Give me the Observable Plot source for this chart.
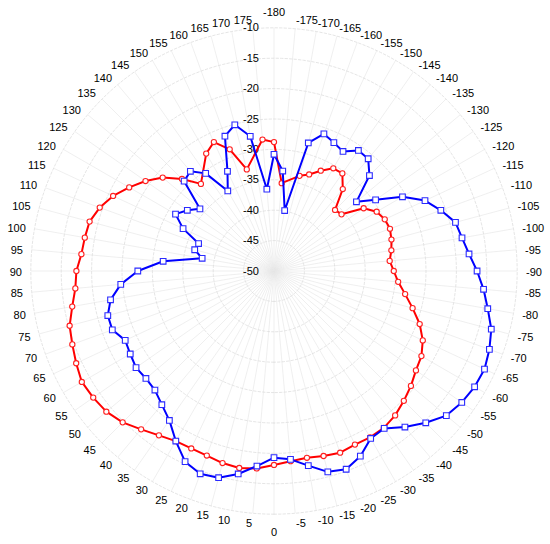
<!DOCTYPE html>
<html><head><meta charset="utf-8">
<script src="https://cdn.jsdelivr.net/npm/d3@7"></script>
<script src="https://cdn.jsdelivr.net/npm/@observablehq/plot@0.6"></script>
<style>html,body{margin:0;padding:0;background:#fff;} svg{display:block;}</style>
</head><body><div id="chart"></div>
<script>
// angular tick labels (degrees)
const angleTicks = [-180,-175,-170,-165,-160,-155,-150,-145,-140,-135,-130,-125,-120,-115,-110,-105,-100,-95,-90,-85,-80,-75,-70,-65,-60,-55,-50,-45,-40,-35,-30,-25,-20,-15,-10,-5,0,5,10,15,20,25,30,35,40,45,50,55,60,65,70,75,80,85,90,95,100,105,110,115,120,125,130,135,140,145,150,155,160,165,170,175];
// radial tick labels (dB)
const radialTicks = [-50,-45,-40,-35,-30,-25,-20,-15,-10];

// red series (circles)
const redAngles = [-175,-165,-160,-155,-150,-145,-140,-135,-130,-125,-120,-115,-110,-105,-100,-95,-90,-85,-80,-75,-70,-65,-60,-55,-50,-45,-40,-35,-30,-25,-20,-15,-10,-5,0,5,10,15,20,25,30,35,40,45,50,55,60,65,70,75,80,85,90,95,100,105,110,115,120,125,130,135,140,150,155,160,165,175,180];
const redValues = [-35.5,-33.8,-33.1,-31.8,-30.5,-30.4,-32.4,-35.8,-35.5,-32.0,-30.5,-29.9,-29.7,-30.0,-30.4,-30.9,-30.3,-29.5,-28.1,-26.4,-24.5,-23.0,-22.0,-21.5,-20.6,-19.8,-19.0,-18.5,-18.4,-18.5,-18.2,-18.5,-18.8,-18.6,-18.1,-17.4,-17.1,-17.3,-17.7,-17.8,-17.7,-17.0,-16.0,-14.8,-14.0,-13.7,-13.5,-14.1,-14.7,-15.2,-16.3,-17.2,-17.5,-18.2,-18.4,-18.6,-19.5,-20.8,-22.5,-24.2,-26.1,-28.6,-31.3,-27.7,-26.6,-28.7,-32.7,-28.3,-28.8];

// blue series (squares)
const blueAngles = [-175,-170,-165,-160,-155,-150,-145,-140,-135,-130,-125,-120,-115,-110,-105,-100,-95,-90,-85,-80,-75,-70,-65,-60,-55,-50,-45,-40,-35,-30,-25,-20,-15,-10,-5,0,5,10,15,20,25,30,35,40,45,50,55,60,65,70,75,80,85,90,95,100,105,110,115,120,125,130,135,140,145,150,155,160,165,170,175,180];
const blueValues = [-33.5,-39.9,-28.2,-26.0,-26.7,-27.3,-25.8,-25.9,-27.8,-32.3,-29.6,-25.6,-22.6,-20.8,-19.1,-18.6,-17.8,-16.6,-15.4,-14.3,-13.0,-12.3,-11.8,-11.9,-12.3,-13.0,-14.7,-16.5,-18.4,-18.2,-16.4,-15.3,-15.8,-17.5,-18.9,-19.3,-17.8,-16.1,-14.8,-14.5,-15.4,-17.7,-20.0,-21.3,-22.3,-22.5,-22.3,-22.7,-23.0,-21.7,-21.7,-22.7,-24.7,-27.6,-31.7,-38.0,-36.5,-36.8,-33.5,-31.3,-32.6,-34.1,-29.1,-28.6,-30.4,-34.8,-31.9,-26.4,-25.1,-27.5,-36.5,-30.8];

const rMin = radialTicks[0], rMax = radialTicks[radialTicks.length - 1];
const W = 550, H = 544, cx = 273.5, cy = 270.5, k = 6.08; // px per dB
const R = rMax - rMin;
const rad = a => a * Math.PI / 180;
const X = (a, rr) => -rr * Math.sin(rad(a));
const Y = (a, rr) => -rr * Math.cos(rad(a));

const red = redAngles.map((a, i) => ({a, r: redValues[i] - rMin}));
const blue = blueAngles.map((a, i) => ({a, r: blueValues[i] - rMin}));

// grid rings
const ringPts = [];
for (const t of radialTicks.slice(1)) {
  for (let a = 0; a <= 360; a += 2) ringPts.push({ring: t, a, r: t - rMin});
}

const RL = 252 / k;
const leftLab = angleTicks.filter(a => a > 0);
const rightLab = angleTicks.filter(a => a < 0 && a !== -180);
const font = "'Liberation Sans', Arial, sans-serif";

const chart = Plot.plot({
  width: W, height: H, margin: 0,
  style: {fontFamily: font, fontSize: "11px", background: "#fff"},
  x: {domain: [-cx / k, (W - cx) / k], axis: null},
  y: {domain: [-(H - cy) / k, cy / k], axis: null},
  marks: [
    Plot.link(angleTicks, {x1: 0, y1: 0, x2: a => X(a, R), y2: a => Y(a, R), stroke: "#e8e8e8", strokeWidth: 0.7}),
    Plot.line(ringPts, {x: d => X(d.a, d.r), y: d => Y(d.a, d.r), z: "ring", stroke: "#dedede", strokeWidth: 0.8, strokeDasharray: "2.5,2"}),
    Plot.text(radialTicks, {x: 0, y: v => v - rMin, text: v => String(v), textAnchor: "end", dx: -15, fill: "#000", fontSize: 11}),
    Plot.text(leftLab, {x: a => X(a, RL), y: a => Y(a, RL), text: a => String(a), textAnchor: "end", dy: 1, fill: "#000", fontSize: 11}),
    Plot.text(rightLab, {x: a => X(a, RL), y: a => Y(a, RL), text: a => String(a), textAnchor: "start", dy: 1, fill: "#000", fontSize: 11}),
    Plot.text([-180], {x: a => X(a, RL), y: a => Y(a, RL), text: a => String(a), textAnchor: "middle", dy: -7, fill: "#000", fontSize: 11}),
    Plot.text([0], {x: a => X(a, RL), y: a => Y(a, RL), text: a => String(a), textAnchor: "middle", dy: 9, fill: "#000", fontSize: 11}),
    Plot.line(red, {x: d => X(d.a, d.r), y: d => Y(d.a, d.r), curve: "linear-closed", stroke: "#ff0000", strokeWidth: 2}),
    Plot.dot(red, {x: d => X(d.a, d.r), y: d => Y(d.a, d.r), r: 2.6, fill: "#fff", stroke: "#ff2020", strokeWidth: 1.1}),
    Plot.line(blue, {x: d => X(d.a, d.r), y: d => Y(d.a, d.r), curve: "linear-closed", stroke: "#0000ff", strokeWidth: 2}),
    Plot.dot(blue, {x: d => X(d.a, d.r), y: d => Y(d.a, d.r), symbol: "square", r: 3.2, fill: "#fff", stroke: "#2a2aff", strokeWidth: 1.1})
  ]
});
document.getElementById("chart").appendChild(chart);
</script>
</body></html>
